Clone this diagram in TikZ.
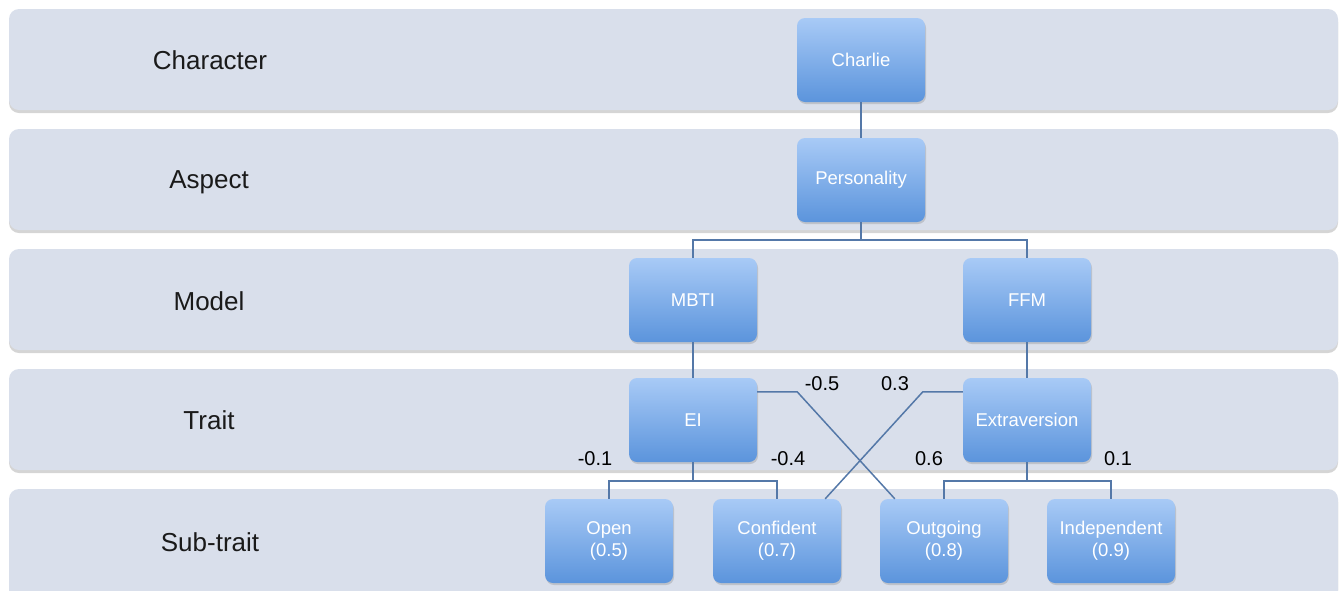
\documentclass[tikz,border=0pt]{standalone}
\usepackage{fontspec}
\setmainfont{Liberation Sans}
\usetikzlibrary{shadows,calc}
\definecolor{bandfill}{HTML}{D9DFEB}
\definecolor{nodetop}{HTML}{A8CAF6}
\definecolor{nodebot}{HTML}{5B94DC}
\definecolor{wire}{HTML}{5478A8}
\definecolor{ink}{HTML}{1A1A1A}
\tikzset{
  band/.style={fill=bandfill, rounded corners=10pt,
    drop shadow={shadow xshift=0pt, shadow yshift=-3pt, opacity=0.3, fill=black!55}},
  bandlabel/.style={text=ink, font=\fontsize{26}{31}\selectfont},
  box/.style={rounded corners=8pt, minimum width=128pt, minimum height=84pt,
    inner sep=0pt, top color=nodetop, bottom color=nodebot, draw=none,
    text=white, align=center, font=\fontsize{18.5}{22}\selectfont,
    drop shadow={shadow xshift=1pt, shadow yshift=-2pt, opacity=0.3}},
  wireline/.style={draw=wire, line width=1.5pt},
  weight/.style={text=black, font=\fontsize{20}{24}\selectfont, inner sep=0pt}
}
\begin{document}
\begin{tikzpicture}[x=1pt,y=1pt]
\useasboundingbox (0,0) rectangle (1340,-590);
% horizontal bands, one per level
\path[band] (9,-9) rectangle (1338,-110);
\path[band] (9,-129) rectangle (1338,-230);
\path[band] (9,-249) rectangle (1338,-350);
\path[band] (9,-369) rectangle (1338,-470);
\path[band] (9,-489) rectangle (1338,-600);
% level names
\node[bandlabel] (lchar) at (210,-60) {Character};
\node[bandlabel] (lasp) at (209,-182) {Aspect};
\node[bandlabel] (lmod) at (209,-301) {Model};
\node[bandlabel] (ltrait) at (209,-420) {Trait};
\node[bandlabel] (lsub) at (210,-542) {Sub-trait};
% hierarchy boxes
\node[box] (charlie) at (861,-60) {Charlie};
\node[box] (pers) at (861,-180) {Personality};
\node[box] (mbti) at (693,-300) {MBTI};
\node[box] (ffm) at (1027,-300) {FFM};
\node[box] (ei) at (693,-420) {EI};
\node[box] (extra) at (1027,-420) {Extraversion};
\node[box] (open) at (609,-541) {Open\\(0.5)};
\node[box] (conf) at (777,-541) {Confident\\(0.7)};
\node[box] (outg) at (944,-541) {Outgoing\\(0.8)};
\node[box] (indep) at (1111,-541) {Independent\\(0.9)};
% tree connectors
\draw[wireline] (charlie.south) -- (pers.north);
\draw[wireline] (pers.south) -- ++(0,-18) coordinate (busA);
\draw[wireline] (mbti.north) |- (busA) -| (ffm.north);
\draw[wireline] (mbti.south) -- (ei.north);
\draw[wireline] (ffm.south) -- (extra.north);
\draw[wireline] (ei.south) -- ++(0,-19) coordinate (busB);
\draw[wireline] (open.north) |- (busB) -| (conf.north);
\draw[wireline] (extra.south) -- ++(0,-19) coordinate (busC);
\draw[wireline] (outg.north) |- (busC) -| (indep.north);
% cross links between the two models
\draw[wireline] ($(ei.north east)+(0,-14)$) -- ++(40,0) -- ($(outg.north west)+(15,0)$);
\draw[wireline] ($(extra.north west)+(0,-14)$) -- ++(-40,0) -- ($(conf.north east)+(-16,0)$);
% link weights
\node[weight] (wA) at (822,-384) {-0.5};
\node[weight] (wB) at (895,-384) {0.3};
\node[weight] (wC) at (595,-459) {-0.1};
\node[weight] (wD) at (788,-459) {-0.4};
\node[weight] (wE) at (929,-459) {0.6};
\node[weight] (wF) at (1118,-459) {0.1};
\end{tikzpicture}
\end{document}
